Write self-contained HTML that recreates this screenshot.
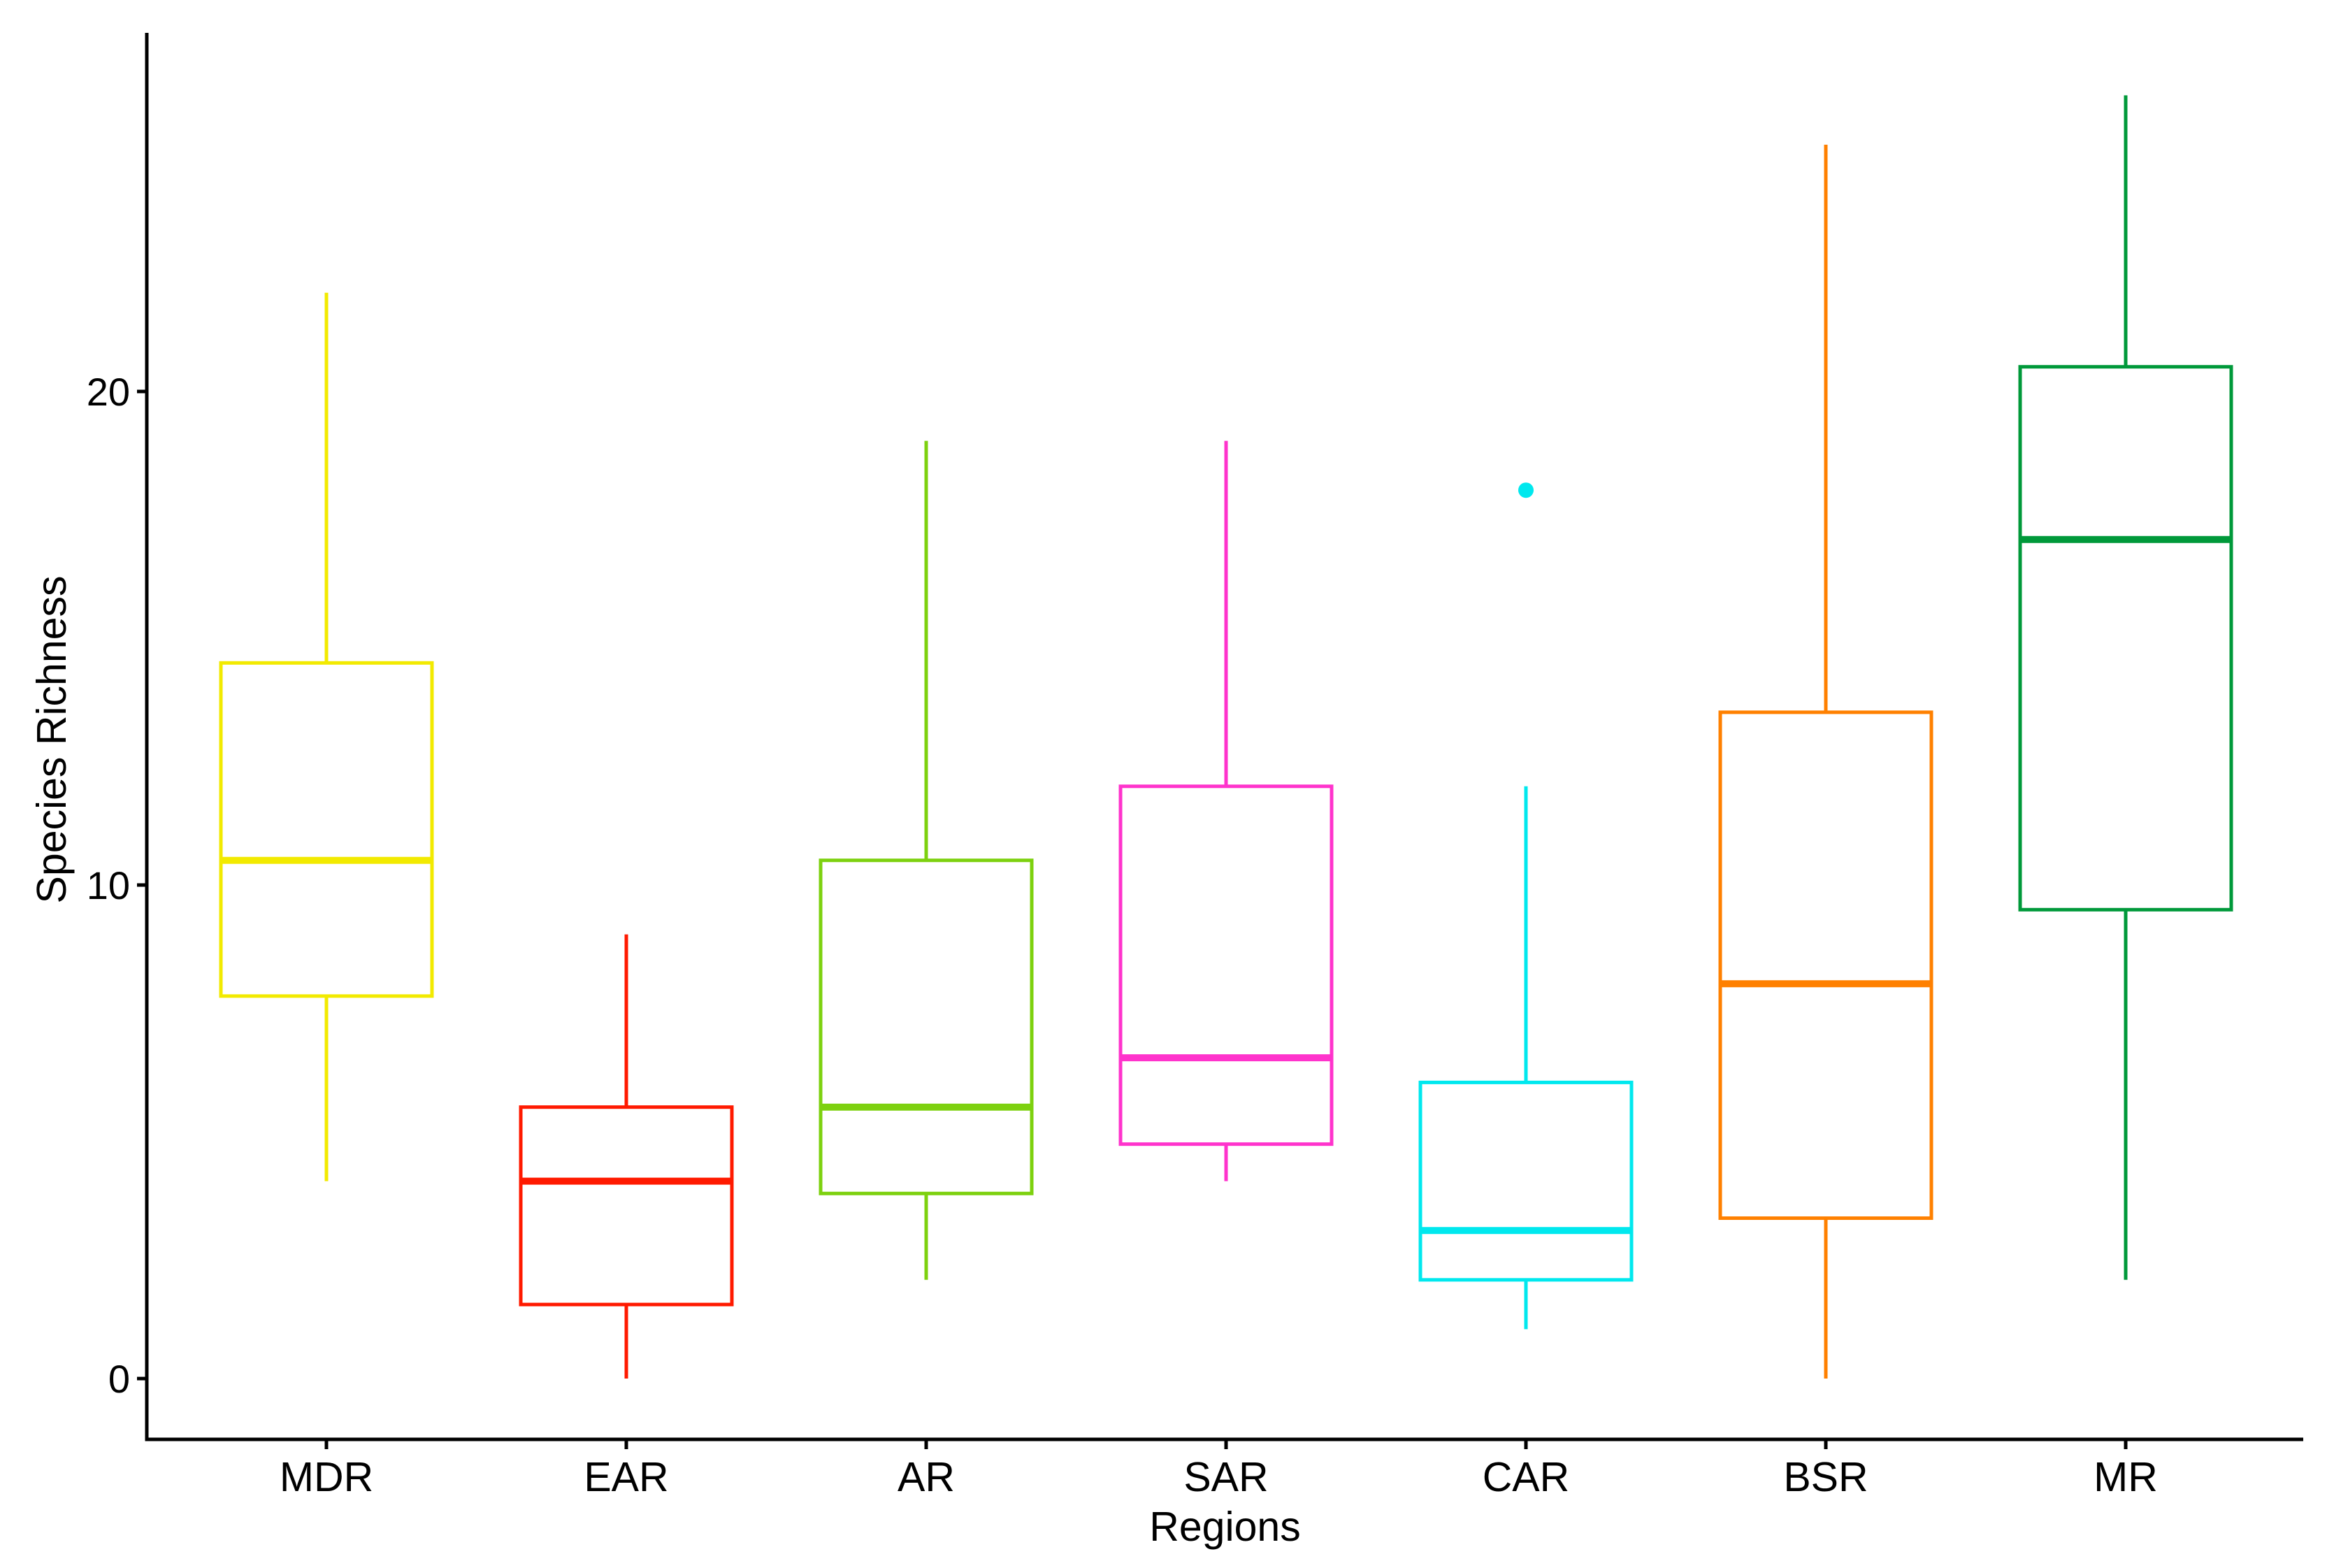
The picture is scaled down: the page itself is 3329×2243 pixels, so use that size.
<!DOCTYPE html>
<html><head><meta charset="utf-8"><style>
html,body{margin:0;padding:0;background:#fff;}
svg{display:block;font-family:"Liberation Sans",Arial,sans-serif;}
</style></head><body>
<svg id="chart" width="3329" height="2243" viewBox="0 0 3329 2243"></svg>
<script>
const categories=["MDR","EAR","AR","SAR","CAR","BSR","MR"];
const whiskerLow=[4,0,2,4,1,0,2];
const q1=[7.75,1.5,3.75,4.75,2,3.25,9.5];
const medians=[10.5,4,5.5,6.5,3,8,17];
const q3=[14.5,5.5,10.5,12,6,13.5,20.5];
const whiskerHigh=[22,9,19,19,12,25,26];
const outlierCats=["CAR"];
const outlierVals=[18];
const colors=["#F2EA00","#FF1A00","#7DD10F","#FF33CC","#00E8EE","#FF8000","#00993A"];
const yTicks=[0,10,20];

const NS="http://www.w3.org/2000/svg";
const svg=document.getElementById('chart');
const axL=210,axR=3295,axT=47,axB=2059;
const y0=1972,pxPerUnit=70.6;
function yScale(v){return y0-v*pxPerUnit;}
const x0=467,step=429;
function xScale(c){return x0+categories.indexOf(c)*step;}
const halfW=151;
function mk(tag,attrs){const e=document.createElementNS(NS,tag);for(const k in attrs)e.setAttribute(k,attrs[k]);svg.appendChild(e);return e;}

categories.forEach((c,i)=>{
  const x=xScale(c),col=colors[i];
  let e=mk('line',{x1:x,x2:x,y1:yScale(whiskerLow[i]),y2:yScale(q1[i]),stroke:col,'stroke-width':5});
  
  
  e=mk('line',{x1:x,x2:x,y1:yScale(q3[i]),y2:yScale(whiskerHigh[i]),stroke:col,'stroke-width':5});
  
  
  e=mk('rect',{x:x-halfW,y:yScale(q3[i]),width:2*halfW,height:yScale(q1[i])-yScale(q3[i]),fill:'none',stroke:col,'stroke-width':5});
  
  
  e=mk('line',{x1:x-halfW,x2:x+halfW,y1:yScale(medians[i]),y2:yScale(medians[i]),stroke:col,'stroke-width':10});
  
  
});
outlierCats.forEach((c,j)=>{
  const i=categories.indexOf(c);
  const e=mk('circle',{cx:xScale(c),cy:yScale(outlierVals[j]),r:11,fill:colors[i]});
  
  
});
let a=mk('line',{x1:axL,x2:axL,y1:axT,y2:axB+2.5,stroke:'#000','stroke-width':5});


a=mk('line',{x1:axL-2.5,x2:axR,y1:axB,y2:axB,stroke:'#000','stroke-width':5});


yTicks.forEach(t=>{
  const y=yScale(t);
  let e=mk('line',{x1:axL-14,x2:axL,y1:y,y2:y,stroke:'#000','stroke-width':5});
  
  
  e=mk('text',{x:axL-24,y:y+20,'text-anchor':'end','font-size':56,fill:'#000'});
  e.textContent=t;
  
  
});
categories.forEach(c=>{
  const x=xScale(c);
  let e=mk('line',{x1:x,x2:x,y1:axB,y2:axB+14,stroke:'#000','stroke-width':5});
  
  
  e=mk('text',{x:x,y:axB+74,'text-anchor':'middle','font-size':59,fill:'#000'});
  e.textContent=c;
  
  
});
let t=mk('text',{x:(axL+axR)/2,y:2204,'text-anchor':'middle','font-size':59,fill:'#000'});
t.textContent='Regions';


t=mk('text',{x:0,y:0,'text-anchor':'middle','font-size':59,fill:'#000',transform:'translate(94,1058) rotate(-90)'});
t.textContent='Species Richness';


</script>
</body></html>
